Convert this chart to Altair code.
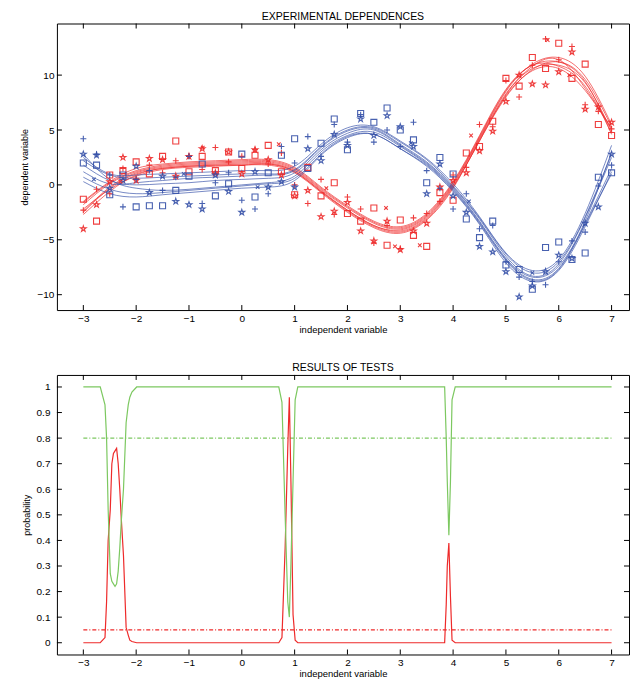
import altair as alt
import pandas as pd

# ---------------- data: top panel ----------------
X21 = [-3.0, -2.5, -2.0, -1.5, -1.0, -0.5, 0.0, 0.5, 1.0, 1.5, 2.0,
       2.5, 3.0, 3.5, 4.0, 4.5, 5.0, 5.5, 6.0, 6.5, 7.0]

RED_CURVES = [
    [-2.5, -0.3, 1.0, 1.5, 1.7, 1.8, 1.9, 1.9, 1.2, -0.6, -2.4, -3.8, -4.3, -3.1, -0.2, 4.0, 8.0, 10.5, 11.2, 9.6, 5.3],
    [-1.6, 0.2, 1.3, 1.8, 2.0, 2.1, 2.2, 2.2, 1.5, -0.3, -2.0, -3.4, -3.9, -2.7, 0.2, 4.4, 8.6, 10.9, 10.8, 9.0, 4.7],
    [-2.2, -0.4, 0.8, 1.4, 1.6, 1.7, 1.8, 1.8, 1.1, -0.7, -2.5, -3.9, -4.4, -3.2, -0.3, 4.1, 8.1, 10.4, 10.6, 8.6, 5.1],
    [-1.8, 0.1, 1.2, 1.7, 1.9, 2.0, 2.1, 2.1, 1.4, -0.4, -2.1, -3.5, -4.0, -2.8, 0.1, 4.3, 8.5, 11.0, 11.6, 9.9, 5.5],
    [-2.4, -0.2, 1.1, 1.6, 1.8, 1.9, 2.0, 2.0, 1.3, -0.5, -2.3, -3.7, -4.1, -2.9, 0.0, 4.2, 8.3, 10.6, 10.9, 9.3, 4.9],
    [-1.5, 0.3, 1.5, 1.9, 2.1, 2.2, 2.3, 2.3, 1.6, -0.2, -1.9, -3.3, -3.8, -2.6, 0.3, 4.5, 8.7, 10.9, 11.2, 9.4, 4.6],
    [-2.7, -0.6, 0.9, 1.5, 1.7, 1.8, 1.8, 1.9, 1.2, -0.6, -2.3, -3.7, -4.2, -3.0, -0.1, 4.0, 8.2, 10.8, 11.4, 8.8, 5.2],
]
BLUE_CURVES = [
    [2.8, 0.5, -0.3, -0.5, -0.4, -0.2, 0.0, 0.2, 0.8, 3.0, 4.5, 4.8, 3.5, 1.9, -0.4, -3.4, -6.8, -8.6, -7.6, -3.5, 1.5],
    [0.7, -0.4, -0.8, -0.7, -0.5, -0.3, -0.1, 0.1, 0.6, 2.8, 4.4, 4.6, 3.3, 1.7, -0.6, -3.6, -7.1, -8.8, -7.8, -3.8, 1.2],
    [2.2, 0.9, 0.6, 0.7, 0.8, 0.9, 1.0, 1.0, 1.4, 3.5, 5.0, 5.2, 3.9, 2.3, -0.1, -3.0, -6.3, -8.0, -7.0, -2.9, 2.8],
    [1.2, 0.1, 0.2, 0.4, 0.6, 0.7, 0.8, 0.9, 1.3, 3.4, 4.9, 5.1, 3.7, 2.1, -0.2, -3.1, -6.5, -8.3, -7.2, -3.0, 2.5],
    [2.5, 1.0, 0.9, 1.0, 1.1, 1.2, 1.3, 1.3, 1.7, 3.7, 5.2, 5.3, 4.0, 2.4, 0.1, -2.9, -6.2, -7.8, -6.8, -2.6, 3.6],
    [0.3, -0.8, -1.1, -0.9, -0.7, -0.5, -0.3, -0.2, 0.4, 2.7, 4.3, 4.6, 3.3, 1.8, -0.5, -3.5, -6.9, -8.7, -7.7, -3.6, 1.0],
    [1.8, 0.4, 0.0, 0.1, 0.2, 0.4, 0.5, 0.6, 1.1, 3.2, 4.7, 5.0, 3.6, 2.0, -0.3, -3.3, -6.7, -8.4, -7.4, -3.3, 3.0],
]

X41 = [-3.0, -2.75, -2.5, -2.25, -2.0, -1.75, -1.5, -1.25, -1.0, -0.75, -0.5,
       -0.25, 0.0, 0.25, 0.5, 0.75, 1.0, 1.25, 1.5, 1.75, 2.0, 2.25, 2.5,
       2.75, 3.0, 3.25, 3.5, 3.75, 4.0, 4.25, 4.5, 4.75, 5.0, 5.25, 5.5,
       5.75, 6.0, 6.25, 6.5, 6.75, 7.0]

RED_SQUARES = [-1.3, -3.3, 0.9, 1.3, 2.1, 1.0, 2.6, 4.0, 1.2, 2.6, 1.3, 3.0, 1.5, 2.7, 3.6, 1.2, -0.9, 1.6, -1.0, 0.2,
               -2.6, -3.3, -2.1, -5.5, -3.2, -4.6, -5.6, -0.7, -1.4, 2.9, 3.5, 5.8, 9.7, 9.0, 11.6, 10.6, 12.9, 9.7, 11.0, 5.5, 4.5]
RED_STARS = [-4.0, -1.8, 0.3, 2.5, 0.4, 2.4, 2.3, 0.8, 2.6, 3.3, 1.1, 3.0, 1.0, 3.2, 2.3, 0.9, -1.0, -0.5, -2.9, -2.4,
             -1.6, -4.2, -5.1, -3.3, -5.9, -4.2, -3.5, -0.2, 0.4, 1.1, 3.1, 4.9, 7.6, 10.0, 9.2, 9.1, 10.3, 12.1, 6.9, 7.1, 5.7]
RED_PLUSES = [-2.3, -0.4, -0.8, 1.5, 0.6, 1.8, 1.1, 2.2, 2.6, 1.4, 3.4, 2.1, 2.6, 3.2, 1.9, 2.9, 0.0, -1.7, 0.5, -2.7,
              -1.1, -2.2, -5.3, -3.7, -5.8, -3.0, -2.6, -1.5, 0.9, 1.6, 5.5, 5.3, 9.5, 8.0, 10.9, 13.3, 11.4, 12.6, 7.3, 6.7, 5.1]
RED_X_POS = [-2.3, -0.74, 0.7, 1.6, 2.73, 2.9, 3.37, 4.34, 5.79, 6.2]
RED_X_VAL = [0.3, 3.4, 3.7, -0.3, -2.1, -5.6, -5.5, 4.5, 13.2, 10.0]

BLUE_SQUARES = [2.0, 1.8, -0.9, 0.9, -2.0, -1.9, -1.9, -0.5, 0.8, 1.9, -1.0, 0.1, 2.8, -1.1, 1.1, 2.7, 4.2, 1.5, 3.8, 6.0,
                3.2, 6.5, 5.7, 7.0, 5.0, 4.1, 0.2, 2.5, 1.0, -3.1, -4.8, -3.3, -7.3, -7.7, -9.5, -5.7, -5.2, -6.8, -6.2, 0.7, 1.1]
BLUE_STARS = [2.8, 2.7, -0.3, 0.4, 1.7, -0.7, 0.8, -1.5, -1.8, -2.2, 0.9, -0.6, -2.5, 1.2, -0.2, 0.3, -0.2, 3.3, 2.2, 4.6,
              3.6, 6.0, 4.5, 6.3, 5.3, 3.5, -0.8, 1.9, -1.0, -2.5, -5.6, -6.1, -7.9, -10.2, -9.2, -7.9, -6.4, -6.7, -3.5, -2.0, 2.8]
BLUE_PLUSES = [4.2, 2.8, 0.9, -2.0, 0.5, 1.3, -0.5, 0.7, 2.6, -1.7, 0.2, 1.1, -1.4, -2.2, -0.8, 3.5, 2.0, 4.4, 2.6, 5.5,
               3.9, 6.4, 3.9, 5.0, 3.5, 5.7, 1.3, -0.3, -2.2, -0.8, -4.0, -3.7, -7.0, -8.4, -8.8, -9.1, -7.0, -5.1, -4.3, -0.1, 1.8]
BLUE_X_POS = [-2.8, -1.1, 0.3, 3.2, 4.3, 5.5]
BLUE_X_VAL = [0.5, 1.0, -0.2, 3.8, -1.5, -8.0]

# ---------------- data: bottom panel ----------------
P_X = [-3.0, -2.68, -2.59, -2.56, -2.53, -2.49, -2.46, -2.43, -2.40, -2.37, -2.34, -2.31, -2.28, -2.24, -2.19, -2.15,
       -2.12, -2.08, -1.99, 0.70, 0.76, 0.82, 0.87, 0.90, 0.93, 0.97, 1.01, 1.06, 3.84, 3.87, 3.89, 3.92, 3.95, 3.98,
       4.04, 7.0]
P_GREEN = [1.0, 1.0, 0.93, 0.80, 0.52, 0.27, 0.24, 0.23, 0.22, 0.23, 0.28, 0.37, 0.48, 0.60, 0.86, 0.93,
           0.96, 0.98, 1.0, 1.0, 0.94, 0.50, 0.16, 0.10, 0.31, 0.63, 0.95, 1.0, 1.0, 0.80, 0.63, 0.42, 0.63, 0.95,
           1.0, 1.0]
P_RED = [0.0, 0.0, 0.02, 0.16, 0.40, 0.52, 0.70, 0.74, 0.75, 0.76, 0.70, 0.60, 0.48, 0.34, 0.06, 0.03,
         0.01, 0.005, 0.0, 0.0, 0.02, 0.37, 0.76, 0.96, 0.63, 0.11, 0.01, 0.0, 0.0, 0.15, 0.30, 0.39, 0.18, 0.01,
         0.0, 0.0]
THRESH_X = [-3.0, 7.0]
THRESH_GREEN = 0.8
THRESH_RED = 0.05

X_TICKS = [-3, -2, -1, 0, 1, 2, 3, 4, 5, 6, 7]
Y_TICKS_TOP = [-10, -5, 0, 5, 10]
Y_TICKS_BOT = [0, 0.1, 0.2, 0.3, 0.4, 0.5, 0.6, 0.7, 0.8, 0.9, 1]

# ---------------- styling ----------------
RED = "#ee2a2a"
BLUE = "#3550a8"
GREEN = "#7cc860"
FONT = "Liberation Sans"
W = 573
H_TOP = 287
H_BOT = 280
TICK = 5

STAR = ("M0,-1L0.225,-0.309L0.951,-0.309L0.363,0.118L0.588,0.809L0,0.382"
        "L-0.588,0.809L-0.363,0.118L-0.951,-0.309L-0.225,-0.309Z")
PLUS = "M-1,0L1,0M0,-1L0,1"
XMARK = "M-0.6,-0.6L0.6,0.6M-0.6,0.6L0.6,-0.6"

# ---------------- build tables ----------------
curve_rows = []
for i, ys in enumerate(RED_CURVES):
    for x, y in zip(X21, ys):
        curve_rows.append({"x": x, "y": y, "id": f"r{i}", "c": "r"})
for i, ys in enumerate(BLUE_CURVES):
    for x, y in zip(X21, ys):
        curve_rows.append({"x": x, "y": y, "id": f"b{i}", "c": "b"})
curves = pd.DataFrame(curve_rows)

pt_rows = []
for c, arrs in (("r", (RED_SQUARES, RED_STARS, RED_PLUSES)),
                ("b", (BLUE_SQUARES, BLUE_STARS, BLUE_PLUSES))):
    for m, ys in zip(("sq", "st", "pl"), arrs):
        for x, y in zip(X41, ys):
            pt_rows.append({"x": x, "y": y, "c": c, "m": m})
for x, y in zip(RED_X_POS, RED_X_VAL):
    pt_rows.append({"x": x, "y": y, "c": "r", "m": "x"})
for x, y in zip(BLUE_X_POS, BLUE_X_VAL):
    pt_rows.append({"x": x, "y": y, "c": "b", "m": "x"})
points = pd.DataFrame(pt_rows)

prob = pd.DataFrame({"x": P_X * 2,
                     "y": P_RED + P_GREEN,
                     "s": ["red"] * len(P_X) + ["green"] * len(P_X)})
thr = pd.DataFrame({"x": THRESH_X * 2,
                    "y": [THRESH_GREEN] * 2 + [THRESH_RED] * 2,
                    "s": ["green", "green", "red", "red"]})

xt = pd.DataFrame({"x": X_TICKS})
yt_top = pd.DataFrame({"y": Y_TICKS_TOP})
yt_bot = pd.DataFrame({"y": Y_TICKS_BOT})

xs = alt.Scale(domain=[-3.5, 7.33], nice=False, zero=False)
ys_top = alt.Scale(domain=[-11.4, 14.7], nice=False, zero=False)
ys_bot = alt.Scale(domain=[-0.046, 1.047], nice=False, zero=False)
cscale = alt.Scale(domain=["r", "b"], range=[RED, BLUE])
shp = alt.Scale(domain=["sq", "st", "pl", "x"], range=["square", STAR, PLUS, XMARK])
pscale = alt.Scale(domain=["red", "green"], range=[RED, GREEN])

X_AXIS = alt.Axis(values=X_TICKS, ticks=False, domain=False, grid=False, labelPadding=3,
                  titlePadding=1, labelFontSize=10, titleFontSize=9.5, titleFontWeight="normal",
                  labelFont=FONT, titleFont=FONT, labelColor="black", titleColor="black",
                  labelFlush=False)


def y_axis(values, fmt, pad, ext):
    return alt.Axis(values=values, format=fmt, ticks=False, domain=False, grid=False,
                    labelPadding=pad, titlePadding=0, minExtent=ext, maxExtent=ext,
                    labelFontSize=10, titleFontSize=9, titleFontWeight="normal",
                    labelFont=FONT, titleFont=FONT, labelColor="black", titleColor="black")


def panel(layers, yscale, yaxis, ytitle, yvals_df, height, title):
    X = lambda: alt.X("x:Q", scale=xs, axis=X_AXIS, title="independent variable")
    Y = lambda: alt.Y("y:Q", scale=yscale, axis=yaxis, title=ytitle)
    built = [lyr(X(), Y()) for lyr in layers]
    bx = alt.Chart(xt).mark_rule(color="black", strokeWidth=1).encode(
        x=X(), y=alt.value(height), y2=alt.value(height - TICK))
    tx = alt.Chart(xt).mark_rule(color="black", strokeWidth=1).encode(
        x=X(), y=alt.value(0), y2=alt.value(TICK))
    ly = alt.Chart(yvals_df).mark_rule(color="black", strokeWidth=1).encode(
        y=Y(), x=alt.value(0), x2=alt.value(TICK))
    ry = alt.Chart(yvals_df).mark_rule(color="black", strokeWidth=1).encode(
        y=Y(), x=alt.value(W - TICK), x2=alt.value(W))
    return alt.layer(*built, bx, tx, ly, ry).properties(
        width=W, height=height,
        title=alt.TitleParams(title, fontSize=10.5, fontWeight="normal",
                              font=FONT, offset=1, color="black"),
    )


def lines_layer(X, Y):
    return alt.Chart(curves).mark_line(strokeWidth=0.9, opacity=0.75, interpolate="natural").encode(
        x=X, y=Y, color=alt.Color("c:N", scale=cscale, legend=None), detail="id:N")


def points_layer(X, Y):
    return alt.Chart(points).mark_point(size=36, strokeWidth=1.1, filled=False, opacity=0.9).encode(
        x=X, y=Y, color=alt.Color("c:N", scale=cscale, legend=None),
        shape=alt.Shape("m:N", scale=shp, legend=None))


def thr_layer(X, Y):
    return alt.Chart(thr).mark_line(strokeWidth=1.2, strokeDash=[4, 2, 1, 2]).encode(
        x=X, y=Y, color=alt.Color("s:N", scale=pscale, legend=None), detail="s:N")


def prob_layer(X, Y):
    return alt.Chart(prob).mark_line(strokeWidth=1.2).encode(
        x=X, y=Y, color=alt.Color("s:N", scale=pscale, legend=None), detail="s:N")


top = panel([lines_layer, points_layer], ys_top, y_axis(Y_TICKS_TOP, "d", 3, 27),
            "dependent variable", yt_top, H_TOP, "EXPERIMENTAL DEPENDENCES")
bottom = panel([thr_layer, prob_layer], ys_bot, y_axis(Y_TICKS_BOT, "", 7, 25),
               "probability", yt_bot, H_BOT, "RESULTS OF TESTS")

chart = alt.vconcat(top, bottom, spacing=28).properties(
    padding={"left": 12, "top": 2, "right": 0, "bottom": 0}
).configure_view(stroke="black", strokeWidth=1).resolve_scale(
    color="independent", shape="independent")

chart.save("out.html", embed_options={"renderer": "svg", "actions": False})
